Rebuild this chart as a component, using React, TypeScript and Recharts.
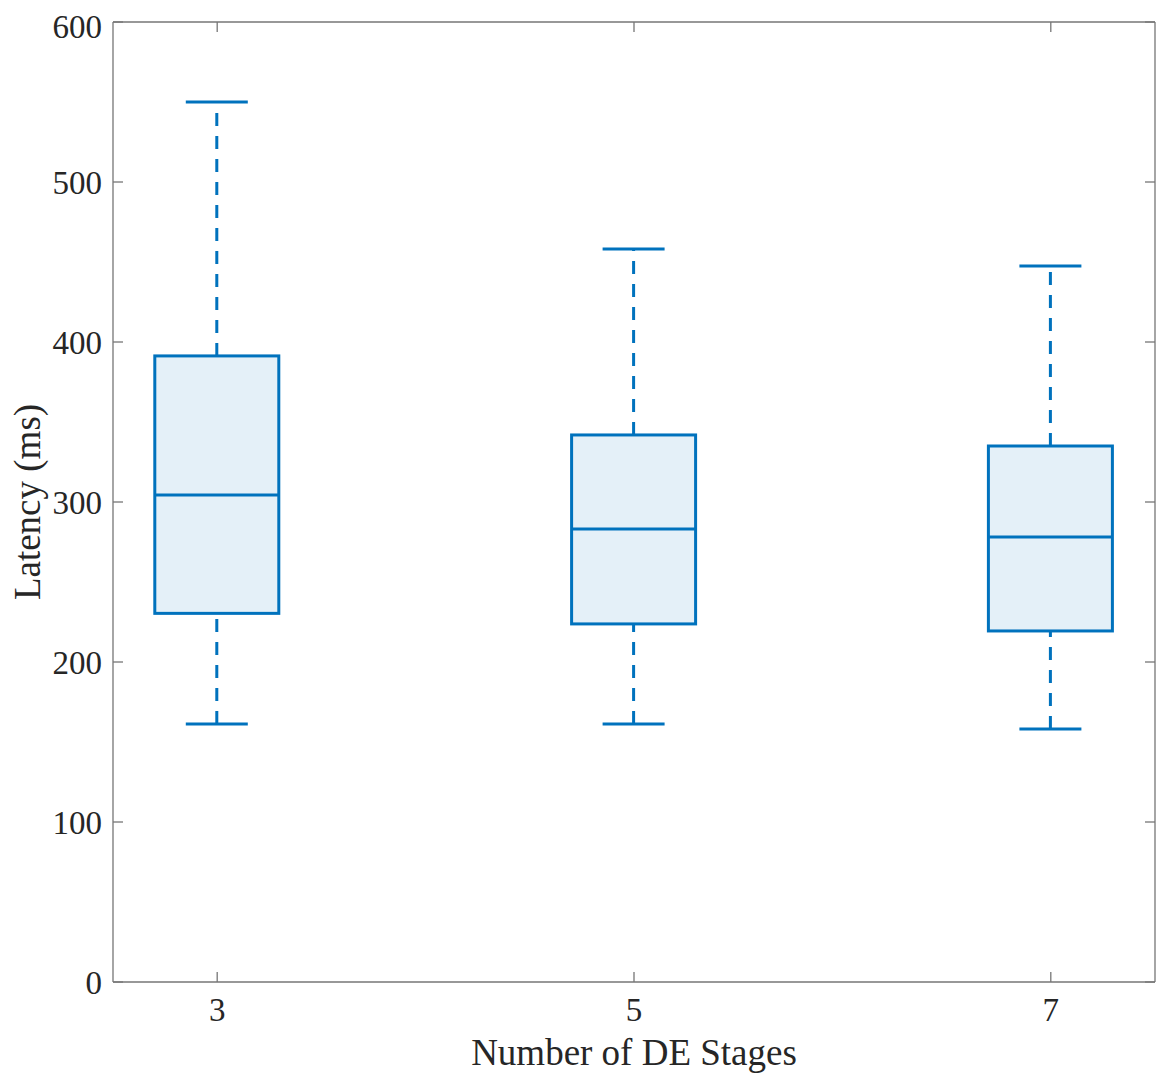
import React from "react";
import { ComposedChart, Bar, XAxis, YAxis, Line } from "recharts";

const stages = [3, 5, 7];
const whiskerLow = [161.2, 161.2, 158.1];
const q1 = [230.4, 223.8, 219.4];
const median = [304.4, 283.1, 278.1];
const q3 = [391.3, 341.9, 335.0];
const whiskerHigh = [550.0, 458.1, 447.5];

const xTicks = [3, 5, 7];
const yTicks = [0, 100, 200, 300, 400, 500, 600];

const data = stages.map((s, i) => ({
  stage: s,
  box: [q1[i], q3[i]],
  lo: whiskerLow[i],
  q1: q1[i],
  med: median[i],
  q3: q3[i],
  hi: whiskerHigh[i],
}));

const BLUE = "#0072BD";
const FILL = "#E4F0F8";
const AXIS = "#767676";
const TEXT = "#262626";
const FONT = "'Liberation Serif', 'Times New Roman', Times, serif";

const BoxShape = (props: any) => {
  const { x, y, width, height, payload } = props;
  if (height === undefined || !payload) return <g />;
  const ppu = height / (payload.q3 - payload.q1);
  const yQ3 = y;
  const yQ1 = y + height;
  const yHi = yQ3 - (payload.hi - payload.q3) * ppu;
  const yLo = yQ1 + (payload.q1 - payload.lo) * ppu;
  const yMed = yQ3 + (payload.q3 - payload.med) * ppu;
  const cx = x + width / 2;
  const capHalf = width / 4;
  return (
    <g>
      <line x1={cx} y1={yQ3} x2={cx} y2={yHi} stroke={BLUE} strokeWidth={3} strokeDasharray="13 10" />
      <line x1={cx} y1={yLo} x2={cx} y2={yQ1} stroke={BLUE} strokeWidth={3} strokeDasharray="13 10" />
      <line x1={cx - capHalf} y1={yHi} x2={cx + capHalf} y2={yHi} stroke={BLUE} strokeWidth={3} />
      <line x1={cx - capHalf} y1={yLo} x2={cx + capHalf} y2={yLo} stroke={BLUE} strokeWidth={3} />
      <rect x={x} y={yQ3} width={width} height={height} fill={FILL} stroke={BLUE} strokeWidth={3} />
      <line x1={x} y1={yMed} x2={x + width} y2={yMed} stroke={BLUE} strokeWidth={3} />
    </g>
  );
};

const Empty = () => <g />;

export default function App() {
  return (
    <div
      style={{
        position: "absolute",
        left: 8,
        top: 8,
        width: 1149,
        height: 1068,
        fontFamily: FONT,
        overflow: "hidden",
      }}
    >
      <ComposedChart
        width={1149}
        height={1068}
        data={data}
        margin={{ top: 13, right: 1, bottom: 0, left: 0 }}
      >
        <XAxis
          xAxisId="b"
          dataKey="stage"
          type="number"
          domain={[2.5, 7.5]}
          ticks={xTicks}
          allowDataOverflow
          height={94}
          stroke={AXIS}
          strokeWidth={1.3}
          tickSize={-10}
          tickMargin={26}
          tick={{ fill: TEXT, fontSize: 33, fontFamily: FONT }}
          label={{
            value: "Number of DE Stages",
            position: "insideBottom",
            offset: 11,
            fill: TEXT,
            fontSize: 37,
            fontFamily: FONT,
          }}
        />
        <XAxis
          xAxisId="t"
          orientation="top"
          dataKey="stage"
          type="number"
          domain={[2.5, 7.5]}
          ticks={xTicks}
          allowDataOverflow
          height={1}
          stroke={AXIS}
          strokeWidth={1.3}
          tickSize={-10}
          tick={Empty}
        />
        <YAxis
          yAxisId="l"
          type="number"
          domain={[0, 600]}
          ticks={yTicks}
          allowDataOverflow
          width={105}
          stroke={AXIS}
          strokeWidth={1.3}
          tickSize={-10}
          tickMargin={21}
          tick={{ fill: TEXT, fontSize: 33, fontFamily: FONT }}
          label={{
            value: "Latency (ms)",
            angle: -90,
            position: "insideLeft",
            offset: 19,
            fill: TEXT,
            fontSize: 37,
            fontFamily: FONT,
            style: { textAnchor: "middle" },
          }}
        />
        <YAxis
          yAxisId="r"
          orientation="right"
          type="number"
          domain={[0, 600]}
          ticks={yTicks}
          allowDataOverflow
          width={1}
          stroke={AXIS}
          strokeWidth={1.3}
          tickSize={-10}
          tick={Empty}
        />
        <Bar
          xAxisId="b"
          yAxisId="l"
          dataKey="box"
          barSize={124}
          shape={BoxShape}
          isAnimationActive={false}
        />
        <Line
          xAxisId="t"
          yAxisId="r"
          dataKey="med"
          stroke="none"
          dot={false}
          activeDot={false}
          isAnimationActive={false}
        />
      </ComposedChart>
    </div>
  );
}
